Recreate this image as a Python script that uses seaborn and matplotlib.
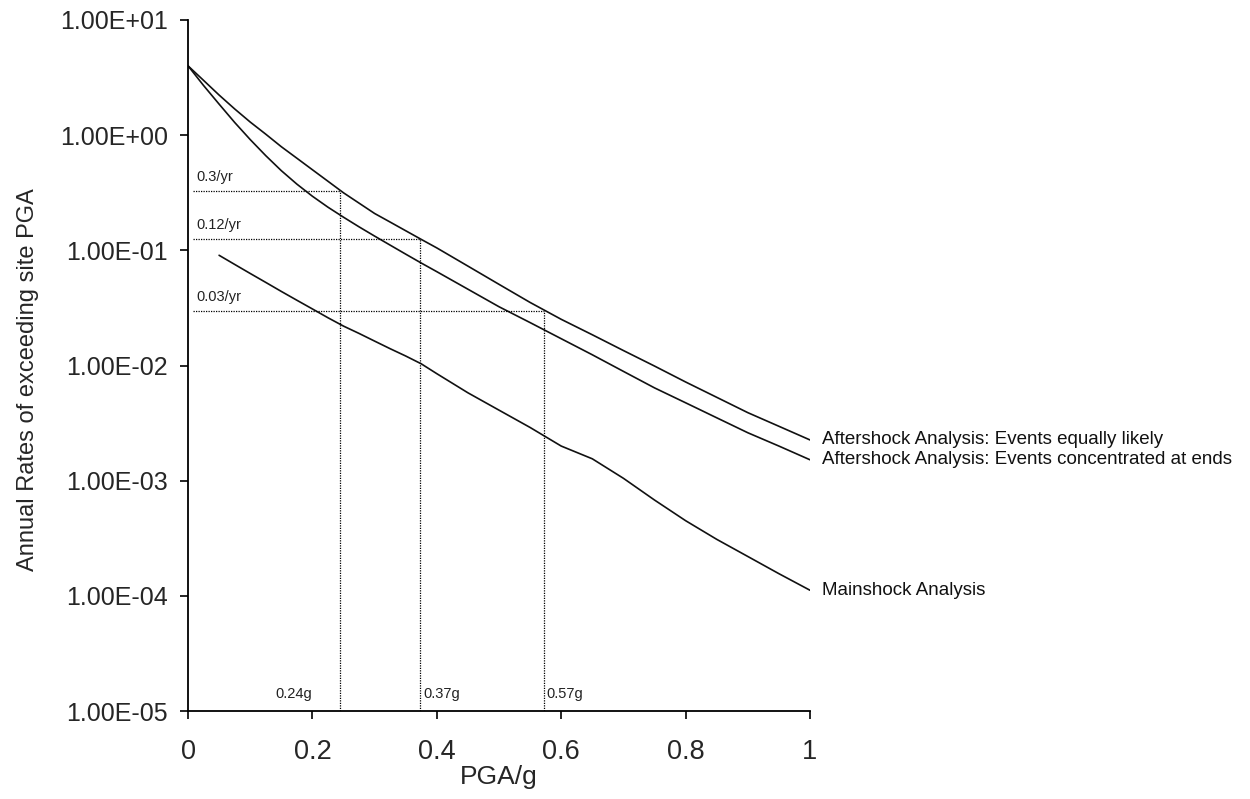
import matplotlib
matplotlib.use("Agg")
import matplotlib.pyplot as plt
import seaborn as sns
import pandas as pd
from matplotlib.ticker import FixedLocator, FuncFormatter

# PGA grid (g): finer where the curves bend
pga = [0.0, 0.025, 0.05, 0.075, 0.1, 0.125, 0.15, 0.175, 0.2, 0.225, 0.25,
       0.275, 0.3, 0.325, 0.35, 0.375, 0.4, 0.45, 0.5, 0.55, 0.6, 0.65,
       0.7, 0.75, 0.8, 0.85, 0.9, 0.95, 1.0]

# annual exceedance rates
equally_likely = [4.0, 2.99, 2.23, 1.69, 1.30, 1.02, 0.794, 0.631, 0.501, 0.398, 0.316,
                  0.257, 0.209, 0.176, 0.148, 0.1245, 0.105, 0.073, 0.0507, 0.0353, 0.0252, 0.0185,
                  0.0135, 0.0099, 0.0072, 0.0053, 0.0039, 0.00297, 0.00226]
concentrated = [4.0, 2.70, 1.86, 1.29, 0.916, 0.664, 0.492, 0.376, 0.295, 0.237, 0.194,
                0.160, 0.133, 0.111, 0.0927, 0.0776, 0.0653, 0.046, 0.0324, 0.0236, 0.0171, 0.0124,
                0.0089, 0.0064, 0.00475, 0.00352, 0.00261, 0.0020, 0.00152]
mainshock_pga = pga[2:]
mainshock = [0.0906, 0.0755, 0.063, 0.0527, 0.044, 0.0369, 0.031, 0.026, 0.022,
             0.019, 0.0163, 0.014, 0.0121, 0.01035, 0.0085, 0.0058, 0.0041, 0.0029, 0.0020, 0.00155,
             0.00105, 0.00068, 0.00045, 0.00031, 0.00022, 0.000156, 0.000112]

series_names = ["Aftershock Analysis: Events equally likely",
                "Aftershock Analysis: Events concentrated at ends",
                "Mainshock Analysis"]

# design levels (rate, PGA) for the dotted guide lines
guide_rates = [0.33, 0.125, 0.03]
guide_rate_labels = ["0.3/yr", "0.12/yr", "0.03/yr"]
guide_pga = [0.245, 0.373, 0.572]
guide_pga_labels = ["0.24g", "0.37g", "0.57g"]

df = pd.concat([
    pd.DataFrame({"PGA": pga, "rate": equally_likely, "series": series_names[0]}),
    pd.DataFrame({"PGA": pga, "rate": concentrated, "series": series_names[1]}),
    pd.DataFrame({"PGA": mainshock_pga, "rate": mainshock, "series": series_names[2]}),
])

sns.set_style("ticks")
plt.rcParams["font.family"] = ["Liberation Sans", "DejaVu Sans"]

fig = plt.figure(figsize=(12.5, 7.99), dpi=100)
ax = fig.add_axes([0.1504, 0.110, 0.4976, 0.865])

sns.lineplot(data=df, x="PGA", y="rate", hue="series", units="series", estimator=None,
             palette=["#111111"] * 3, linewidth=1.2, legend=False, ax=ax)

ax.set_yscale("log")
ax.set_xlim(0, 1)
ax.set_ylim(1e-5, 1e1)

# dotted guide lines
for i, (rate, lab) in enumerate(zip(guide_rates, guide_rate_labels)):
    ax.plot([0.008, guide_pga[i]], [rate, rate], color="black", ls=(0, (1, 1)), lw=0.9)
    ax.annotate(lab, xy=(0.013, rate), xytext=(0, 7), textcoords="offset pixels",
                fontsize=10.5, ha="left", va="bottom", color="#222222")
for i, (x, lab) in enumerate(zip(guide_pga, guide_pga_labels)):
    ax.plot([x, x], [1e-5, guide_rates[i]], color="black", ls=(0, (1, 1)), lw=0.9)
    if i == 0:
        ax.annotate(lab, xy=(x, 1e-5), xytext=(-28, 10), textcoords="offset pixels",
                    fontsize=10.5, ha="right", va="bottom", color="#222222")
    else:
        ax.annotate(lab, xy=(x, 1e-5), xytext=(3, 10), textcoords="offset pixels",
                    fontsize=10.5, ha="left", va="bottom", color="#222222")

# curve labels at the right end
for name, y_end in zip(series_names, [equally_likely[-1], concentrated[-1], mainshock[-1]]):
    ax.annotate(name, xy=(1.0, y_end), xytext=(12, 0), textcoords="offset pixels",
                fontsize=13.5, ha="left", va="center", annotation_clip=False, color="#111111")

ax.yaxis.set_major_locator(FixedLocator([1e-5, 1e-4, 1e-3, 1e-2, 1e-1, 1e0, 1e1]))
ax.yaxis.set_minor_locator(FixedLocator([]))
ax.yaxis.set_major_formatter(FuncFormatter(lambda v, p: f"{v:.2E}"))
ax.set_xticks([0, 0.2, 0.4, 0.6, 0.8, 1.0])
ax.set_xticklabels(["0", "0.2", "0.4", "0.6", "0.8", "1"])
ax.tick_params(axis="both", length=6, width=1.2, color="black", direction="out")
ax.tick_params(axis="y", labelsize=18, pad=8.5)
ax.tick_params(axis="x", labelsize=19.5, pad=14)

ax.set_xlabel("PGA/g", fontsize=19)
ax.set_ylabel("Annual Rates of exceeding site PGA", fontsize=17)
ax.xaxis.set_label_coords(0.5, -0.078)
ax.yaxis.set_label_coords(-0.24, 0.479)

sns.despine(ax=ax)
for s in ["left", "bottom"]:
    ax.spines[s].set_linewidth(1.3)
    ax.spines[s].set_color("black")

fig.savefig("out.png", dpi=100, facecolor="white")
